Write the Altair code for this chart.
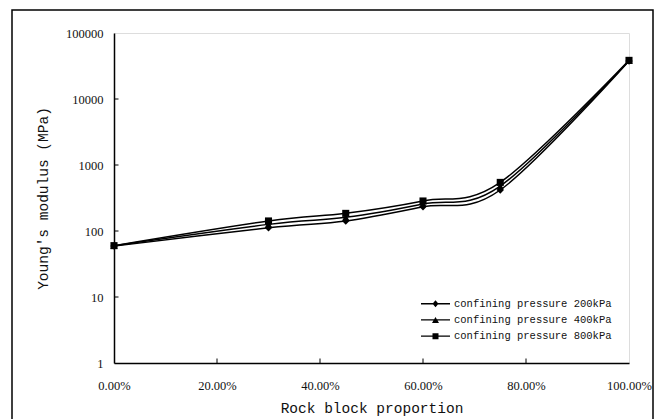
import altair as alt
import pandas as pd

# ---- data ----
proportion = [0.0, 0.30, 0.45, 0.60, 0.75, 1.00]
series_names = [
    "confining pressure 200kPa",
    "confining pressure 400kPa",
    "confining pressure 800kPa",
]
modulus_200 = [59, 112, 142, 233, 418, 37500]
modulus_400 = [60, 126, 161, 257, 480, 38000]
modulus_800 = [60, 142, 185, 285, 545, 38500]
x_ticks = [0.0, 0.2, 0.4, 0.6, 0.8, 1.0]
y_ticks = [1, 10, 100, 1000, 10000, 100000]
x_inner_ticks = [0.2, 0.4, 0.6, 0.8]
y_inner_ticks = [10, 100, 1000, 10000]

rows = []
for name, vals in zip(series_names, [modulus_200, modulus_400, modulus_800]):
    for p, v in zip(proportion, vals):
        rows.append({"series": name, "proportion": p, "modulus": v})
df = pd.DataFrame(rows)

SERIF = "Liberation Serif"
MONO = "Liberation Mono"

x_scale = alt.Scale(domain=[0, 1], nice=False, zero=False)
y_scale = alt.Scale(type="log", domain=[1, 100000], nice=False)

x_enc = alt.X(
    "proportion:Q",
    scale=x_scale,
    axis=alt.Axis(
        values=x_ticks, format=".2%", title="Rock block proportion",
        ticks=False, tickSize=0, grid=False, labelPadding=16, labelFlush=False,
        labelFont=SERIF, labelFontSize=12.5, labelColor="#111",
        titleFont=MONO, titleFontSize=14.5, titleFontWeight="normal",
        titleColor="#111", titlePadding=10,
        domainColor="black", domainWidth=1.5,
    ),
)
y_enc = alt.Y(
    "modulus:Q",
    scale=y_scale,
    axis=alt.Axis(
        values=y_ticks, format="d", title="Young's modulus (MPa)",
        ticks=False, tickSize=0, grid=False, labelPadding=11,
        labelFont=SERIF, labelFontSize=12.5, labelColor="#111",
        titleFont=MONO, titleFontSize=14.5, titleFontWeight="normal",
        titleColor="#111", titlePadding=15,
        domainColor="black", domainWidth=1.5,
    ),
)

lines = alt.Chart(df).mark_line(
    interpolate="cardinal", color="black", strokeWidth=1.5
).encode(x=x_enc, y=y_enc, detail="series:N")

points = alt.Chart(df).mark_point(filled=True, color="black", opacity=1).encode(
    x="proportion:Q",
    y="modulus:Q",
    shape=alt.Shape(
        "series:N",
        scale=alt.Scale(domain=series_names, range=["diamond", "triangle-up", "square"]),
        legend=None,
    ),
    size=alt.Size(
        "series:N",
        scale=alt.Scale(domain=series_names, range=[55, 50, 40]),
        legend=None,
    ),
)

# legend symbols: a thin bar (the line) with the marker in its middle
line_part = "M-8,-0.22L1.667,-0.22L1.667,0.22L-8,0.22Z"
legend_paths = [
    line_part + "M-4.167,0L-3.167,-1.17L-2.167,0L-3.167,1.17Z",
    line_part + "M-4.333,1L-3.167,-1L-2,1Z",
    line_part + "M-4.167,-1L-2.167,-1L-2.167,1L-4.167,1Z",
]
legend_layer = alt.Chart(df).transform_filter("false").mark_point(
    filled=True, color="black", size=36, opacity=1
).encode(
    x="proportion:Q",
    y="modulus:Q",
    shape=alt.Shape(
        "series:N",
        scale=alt.Scale(domain=series_names, range=legend_paths),
        legend=alt.Legend(
            title=None, orient="none", legendX=325.75, legendY=265.5,
            labelFont=MONO, labelFontSize=10.5, labelColor="#111",
            labelOffset=3.75, rowPadding=3.2, padding=0,
            symbolFillColor="black", symbolSize=36,
        ),
    ),
)

# inward tick marks
xt = pd.DataFrame({"proportion": x_inner_ticks})
x_tick_marks = alt.Chart(xt).mark_rule(color="black", strokeWidth=1).encode(
    x="proportion:Q", y=alt.value(330), y2=alt.value(325.5)
)
yt = pd.DataFrame({"modulus": y_inner_ticks})
y_tick_marks = alt.Chart(yt).mark_rule(color="black", strokeWidth=1).encode(
    y="modulus:Q", x=alt.value(0), x2=alt.value(4.5)
)

# outer frame of the figure
frame = alt.Chart(pd.DataFrame({"k": [0]})).mark_rect(
    filled=False, stroke="black", strokeWidth=1.5
).encode(
    x=alt.value(-102), x2=alt.value(539), y=alt.value(-23), y2=alt.value(420)
)

chart = alt.layer(
    lines, points, legend_layer, x_tick_marks, y_tick_marks, frame
).resolve_scale(shape="independent").properties(
    width=515, height=330,
    autosize=alt.AutoSizeParams(type="none"),
    padding={"left": 106, "top": 25, "right": 30, "bottom": 56},
).configure_view(stroke="#555", strokeWidth=1).configure(background="white")

chart.save("out.html", embed_options={"renderer": "svg", "actions": False})
